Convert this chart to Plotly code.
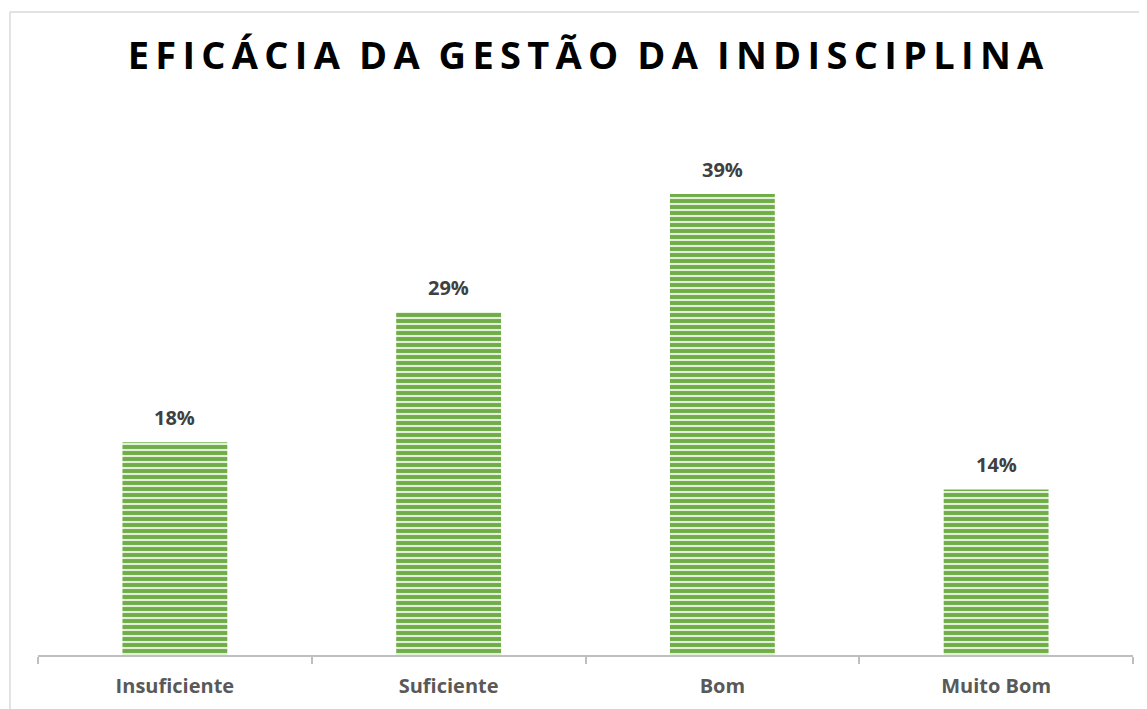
import plotly.graph_objects as go

categories = ["Insuficiente", "Suficiente", "Bom", "Muito Bom"]
values = [18, 29, 39, 14]
labels = ["18%", "29%", "39%", "14%"]
title_text = "EFICÁCIA DA GESTÃO DA INDISCIPLINA"

spaced_title = "\u2009".join(list(title_text)).replace("\u2009 \u2009", "\u2002")

fig = go.Figure()
fig.add_trace(go.Bar(
    x=categories, y=values,
    marker=dict(
        color="#70AD47",
        line=dict(width=0),
        pattern=dict(shape="-", fgcolor="#E2EFDA", bgcolor="#70AD47",
                     size=6, solidity=0.35, fillmode="replace"),
    ),
    hoverinfo="skip",
))

for c, v, t in zip(categories, values, labels):
    fig.add_annotation(x=c, y=v, text=f"<b>{t}</b>", showarrow=False,
                       yanchor="bottom", yshift=9,
                       font=dict(family="Open Sans", size=20, color="#404040"))

fig.add_shape(type="line", xref="paper", yref="paper", x0=-0.0256, x1=1.1,
              y0=1.2086, y1=1.2086, line=dict(color="#D9D9D9", width=1.5))
fig.add_shape(type="line", xref="paper", yref="paper", x0=-0.0256, x1=-0.0256,
              y0=1.2086, y1=-0.2, line=dict(color="#D9D9D9", width=1.5))

fig.update_layout(
    width=1147, height=709,
    margin=dict(l=30, r=22, t=115, b=62),
    paper_bgcolor="white", plot_bgcolor="white",
    bargap=0.617,
    showlegend=False,
    title=dict(text=f"<b>{spaced_title}</b>", x=0.5, xref="paper", xanchor="center",
               y=1 - 48 / 709, yanchor="middle",
               font=dict(family="Open Sans", size=38, color="#000000")),
    xaxis=dict(
        showline=True, linecolor="#BFBFBF", linewidth=2,
        ticks="outside", tickson="boundaries", ticklen=7, tickcolor="#BFBFBF", tickwidth=2,
        ticklabelstandoff=12,
        tickfont=dict(family="Open Sans", size=20, color="#595959", weight="bold"),
        showgrid=False, zeroline=False,
    ),
    yaxis=dict(range=[0, 45], visible=False, showgrid=False, zeroline=False),
)

fig.write_html("out.html")
